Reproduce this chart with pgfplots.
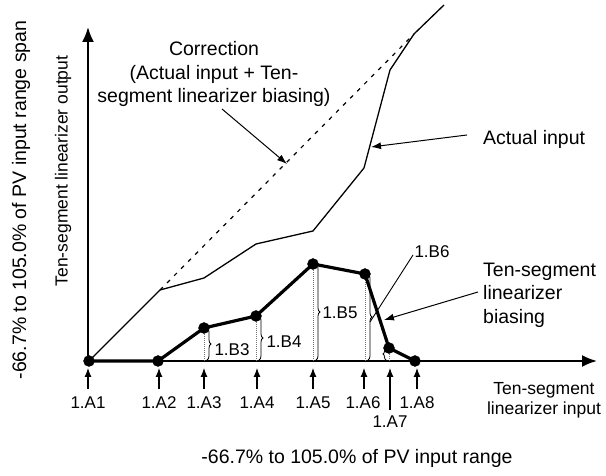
\documentclass[border=0pt]{standalone}
\usepackage{pgfplots}
\pgfplotsset{compat=1.18}
\usepackage{fontspec}
\setmainfont{Liberation Sans}
\usetikzlibrary{arrows.meta,decorations.pathreplacing}
\newcommand\fbig{\fontsize{19.5}{23.5}\selectfont}
\newcommand\fmid{\fontsize{17.5}{20}\selectfont}
\newcommand\fsmall{\fontsize{17}{20}\selectfont}
\tikzset{
  dotv/.style={black!55,line width=1pt,densely dotted},
  br/.style={line width=0.8pt,decorate,decoration={brace,amplitude=4pt}},
  sarr/.style={line width=1.1pt,-{Latex[length=9pt,width=7pt]}},
  aarr/.style={line width=1pt,-{Latex[length=10pt,width=7pt]}},
  lab/.style={font=\fsmall,inner sep=0pt}
}
\begin{document}
\begin{tikzpicture}
\begin{axis}[width=606pt,height=476pt,scale only axis,
  xmin=0,xmax=606,ymin=0,ymax=476,hide axis,clip=false]
% axes
\draw[line width=2pt,-{Latex[length=15pt,width=12pt]}] (88,115) -- (597,115);
\draw[line width=2pt,-{Latex[length=15pt,width=12pt]}] (88,115) -- (88,449);
% dotted verticals
\draw[dotv] (204,115) -- (204,148);
\draw[dotv] (256,115) -- (256,160);
\draw[dotv] (313,115) -- (313,212);
\draw[dotv] (365,115) -- (365,202);
\draw[dotv] (389,115) -- (389,128);
% braces
\draw[br] (207,148) -- (207,116);
\draw[br] (259,160) -- (259,116);
\draw[br] (316,212) -- (316,116);
\draw[br] (368,202) -- (368,116);
\draw[line width=0.8pt,decorate,decoration={brace,amplitude=3pt}] (386,116) -- (386,128);
% correction (dashed)
\addplot[black,line width=1.2pt,dash pattern=on 4pt off 6pt] coordinates {(160,186) (414,442)};
% actual input
\addplot[black,line width=1.3pt] coordinates {(89,115) (160,186) (204,198) (256,232) (313,245) (364,308) (390,406) (414,442) (444,471)};
% ten-segment linearizer biasing
\addplot[black,line width=3.2pt,line join=round] coordinates {(89,115) (158,115) (204,148) (256,160) (313,212) (365,202) (389,128) (415,115)};
\addplot[only marks,mark=*,mark size=5.5pt,black] coordinates {(89,115) (158,115) (204,148) (256,160) (313,212) (365,202) (389,128) (415,115)};
% small arrows at A points
\draw[sarr] (88,87) -- (88,108);
\draw[sarr] (159,87) -- (159,108);
\draw[sarr] (204,87) -- (204,108);
\draw[sarr] (257,87) -- (257,108);
\draw[sarr] (313,87) -- (313,108);
\draw[sarr] (364,87) -- (364,108);
\draw[sarr] (417,87) -- (417,108);
\draw[sarr] (390,66) -- (390,108);
% A labels
\node[lab] at (88,73) {1.A1};
\node[lab] at (159,73) {1.A2};
\node[lab] at (204,73) {1.A3};
\node[lab] at (257,73) {1.A4};
\node[lab] at (313,73) {1.A5};
\node[lab] at (363,73) {1.A6};
\node[lab] at (417,73) {1.A8};
\node[lab] at (390,54) {1.A7};
% B labels
\node[lab] at (232,126) {1.B3};
\node[lab] at (284,134) {1.B4};
\node[lab] at (340,163) {1.B5};
\node[lab] at (432,224) {1.B6};
\draw[line width=0.9pt] (370,154) -- (413,221);
% annotations
\node[font=\fbig,align=center,inner sep=0pt] at (214,402) {Correction\\(Actual input + Ten-\\segment linearizer biasing)};
\draw[aarr] (222,367) -- (287,312);
\node[font=\fbig,anchor=west,inner sep=0pt] at (483,337) {Actual input};
\draw[aarr] (467,341) -- (371,329);
\node[font=\fbig,align=left,anchor=west,inner sep=0pt] at (483,181) {Ten-segment\\linearizer\\biasing};
\draw[aarr] (478,184) -- (384,156);
\node[font=\fmid,align=center,inner sep=0pt] at (544,76) {Ten-segment\\linearizer input};
% axis titles
\node[font=\fbig,rotate=90,inner sep=0pt] at (21,276) {-66.7\% to 105.0\% of PV input range span};
\node[font=\fmid,rotate=90,inner sep=0pt] at (63,305) {Ten-segment linearizer output};
\node[font=\fbig,inner sep=0pt] at (357,18) {-66.7\% to 105.0\% of PV input range};
\end{axis}
\pgfresetboundingbox
\path (0,0) rectangle (606pt,476pt);
\end{tikzpicture}
\end{document}
